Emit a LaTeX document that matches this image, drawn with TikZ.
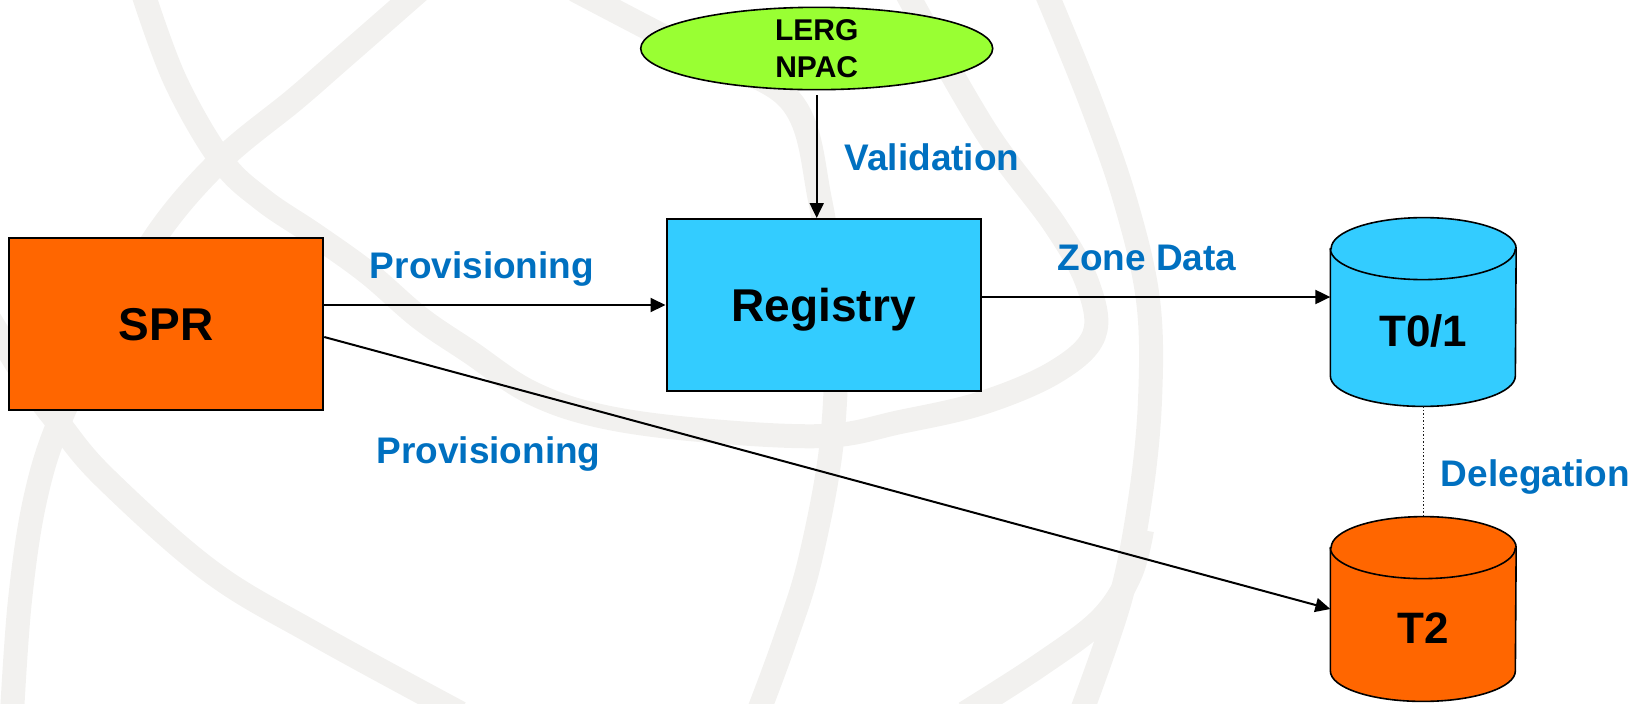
\documentclass[tikz,border=0pt]{standalone}
\usepackage{fontspec}
\setmainfont{Liberation Sans}
\usetikzlibrary{arrows.meta,calc,shapes.geometric}

\definecolor{sprorange}{RGB}{255,102,0}
\definecolor{regcyan}{RGB}{51,204,255}
\definecolor{srcgreen}{RGB}{153,255,51}
\definecolor{flowblue}{RGB}{0,112,192}
\definecolor{swirl}{RGB}{242,241,239}

% database drum drawn around an invisible node: #1 node name, #2 fill colour
\newcommand\drawdrum[2]{%
  \path[draw=black, line width=0.8pt, fill=#2]
    ($(#1.north west)+(0,-15.5pt)$) -- ($(#1.south west)+(0,15.25pt)$)
    arc[start angle=180, end angle=360, x radius=46.25pt, y radius=15.25pt]
    -- ($(#1.north east)+(0,-15.5pt)$)
    arc[start angle=0, end angle=180, x radius=46.25pt, y radius=15.5pt] -- cycle;
  \draw[line width=0.8pt] ($(#1.north west)+(0,-15.5pt)$)
    arc[start angle=180, end angle=360, x radius=46.25pt, y radius=15.5pt];
}

\begin{document}
\begin{tikzpicture}[x=0.5pt, y=0.5pt,
  box/.style={draw=black, line width=1pt, inner sep=0pt,
    minimum width=157.25pt, minimum height=86pt,
    font=\fontsize{23}{27}\selectfont\bfseries, text height=16.5pt, text depth=0pt},
  drumbody/.style={inner sep=0pt, minimum width=92.5pt},
  drumtext/.style={inner sep=0pt, font=\fontsize{22}{26}\selectfont\bfseries,
    text height=15.8pt, text depth=0pt},
  source/.style={ellipse, draw=black, line width=0.8pt, fill=srcgreen, inner sep=0pt,
    minimum width=176pt, minimum height=40.5pt, align=center,
    font=\fontsize{15}{18.5}\selectfont\bfseries},
  flowlabel/.style={anchor=base, inner sep=0pt, text=flowblue,
    font=\fontsize{18.5}{22}\selectfont\bfseries},
  link/.style={line width=1pt, -{Triangle[length=7.5pt,width=7pt]}},
  delegline/.style={densely dotted, line width=0.75pt, draw=black!90},
  band/.style={draw=swirl, line width=12pt}
]
\useasboundingbox (0,0) rectangle (1648,-703);

% faint globe swirls in the background
\begin{scope}
  \clip (0,0) rectangle (1648,-703);
  \draw[band] plot[smooth, tension=0.6] coordinates {
    (142,10) (175,-80) (221,-160) (263,-200) (315,-235) (368,-273) (420,-318)
    (470,-352) (530,-392) (600,-416) (700,-430) (824,-436) (900,-422)
    (982,-403) (1055,-372) (1094,-335) (1088,-285) (1055,-225) (985,-130) (905,10)};
  \draw[band] plot[smooth, tension=0.6] coordinates {
    (420,10) (340,-60) (294,-100) (221,-160) (158,-233) (110,-320)
    (60,-420) (35,-500) (20,-600) (12,-713)};
  \draw[band] plot[smooth, tension=0.6] coordinates {
    (-10,-320) (30,-385) (60,-425) (105,-478) (210,-571) (315,-634) (460,-713)};
  \draw[band] plot[smooth, tension=0.6] coordinates {
    (575,10) (690,-50) (790,-100) (820,-200) (835,-320) (832,-440)
    (810,-560) (785,-640) (758,-713)};
  \draw[band] plot[smooth, tension=0.6] coordinates {
    (1045,10) (1090,-100) (1125,-200) (1148,-300) (1150,-400) (1140,-500)
    (1120,-600) (1081,-713)};
  \draw[band] plot[smooth, tension=0.6] coordinates {
    (965,-713) (1040,-665) (1100,-620) (1130,-575) (1142,-530)};
\end{scope}

% nodes
\node[source] (lerg) at (816.7,-48.5) {LERG\\NPAC};
\node[box, fill=sprorange] (spr) at (166,-324) {SPR};
\node[box, fill=regcyan] (reg) at (823.75,-305) {Registry};

\node[drumbody, minimum height=94pt] (t01) at (1423.25,-312) {};
\node[drumbody, minimum height=92pt] (t2) at (1423.25,-609) {};
\drawdrum{t01}{regcyan}
\drawdrum{t2}{sprorange}
\node[drumtext] (t01label) at ([yshift=-9.25pt]t01.center) {T0/1};
\node[drumtext] (t2label) at ([yshift=-9.5pt]t2.center) {T2};

% connectors
\draw[link, shorten <=2.5pt] (lerg.south) -- (lerg.south |- reg.north);
\draw[link] (spr.east |- reg.west) -- (reg.west);
\draw[link] ([yshift=4pt]reg.east) -- ([yshift=4pt]reg.east -| t01.west);
\draw[link] ([yshift=-6.5pt]spr.east) -- (t2.west);
\draw[delegline] (t01.south) -- (t2.north);

% connector labels
\node[flowlabel] (provtop) at (482,-278) {Provisioning};
\node[flowlabel] (valid) at (932,-170.7) {Validation};
\node[flowlabel] (zone) at (1147,-270) {Zone Data};
\node[flowlabel] (provlow) at (488.5,-463.7) {Provisioning};
\node[flowlabel] (deleg) at (1535.5,-486) {Delegation};
\end{tikzpicture}
\end{document}
